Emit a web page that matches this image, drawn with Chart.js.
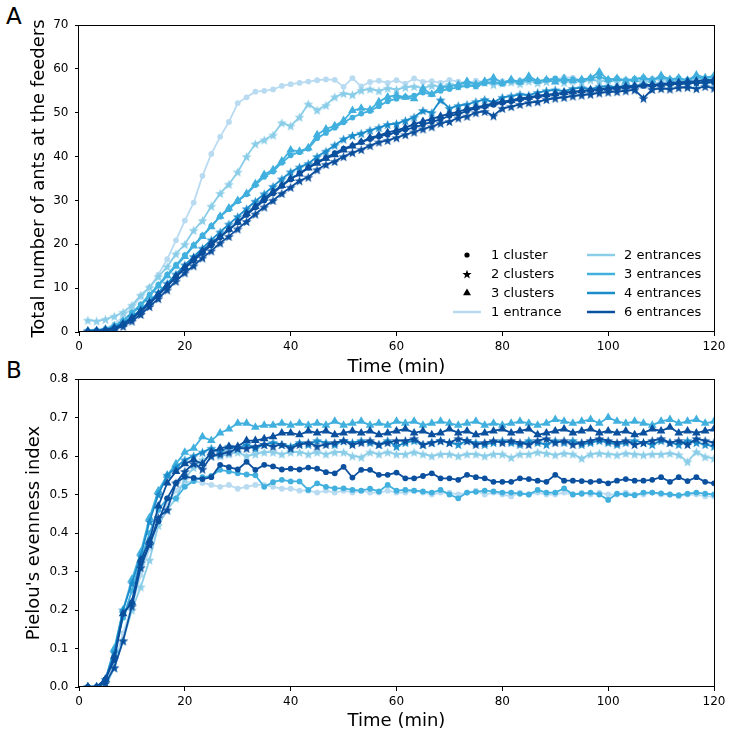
<!DOCTYPE html>
<html>
<head>
<meta charset="utf-8">
<script src="https://cdn.jsdelivr.net/npm/chart.js@4.4.1/dist/chart.umd.min.js"></script>
<style>
  body { margin: 0; background: #fff; width: 732px; height: 734px; position: relative; overflow: hidden; font-family: "DejaVu Sans", sans-serif; }
  canvas { position: absolute; left: 0; }
  #chartA { top: 0; }
  #chartB { top: 354px; }
  .panel-letter { position: absolute; font-size: 23px; line-height: 1; color: #000; }
</style>
</head>
<body>
<div class="panel-letter" style="left:6px; top:5px;">A</div>
<div class="panel-letter" style="left:6px; top:359px;">B</div>
<canvas id="chartA" width="732" height="380"></canvas>
<canvas id="chartB" width="732" height="380"></canvas>
<script>
// sample times (min), one every 100 s
const times = [1.67,3.33,5,6.67,8.33,10,11.67,13.33,15,16.67,18.33,20,
  21.67,23.33,25,26.67,28.33,30,31.67,33.33,35,36.67,38.33,40,
  41.67,43.33,45,46.67,48.33,50,51.67,53.33,55,56.67,58.33,60,
  61.67,63.33,65,66.67,68.33,70,71.67,73.33,75,76.67,78.33,80,
  81.67,83.33,85,86.67,88.33,90,91.67,93.33,95,96.67,98.33,100,
  101.67,103.33,105,106.67,108.33,110,111.67,113.33,115,116.67,118.33,120];

const xTicks = [0, 20, 40, 60, 80, 100, 120];
const yTicksA = [0, 10, 20, 30, 40, 50, 60, 70];
const yTicksB = [0, 0.1, 0.2, 0.3, 0.4, 0.5, 0.6, 0.7, 0.8];
const yLabelsB = ['0.0', '0.1', '0.2', '0.3', '0.4', '0.5', '0.6', '0.7', '0.8'];

const clusterLabels = ['1 cluster', '2 clusters', '3 clusters'];
const entranceLabels = ['1 entrance', '2 entrances', '3 entrances', '4 entrances', '6 entrances'];
const entranceCounts = [1, 2, 3, 4, 6];
const entranceColors = ['#b9dbf1', '#8acde8', '#41b0de', '#1b8ccb', '#0b509e'];

// --- Panel A: total number of ants at the feeders ---
const antsC1E1 = [0.3,0.4,0.8,1.8,3.5,5.5,8.0,10.2,13.1,16.6,20.9,25.4,
  29.5,35.6,40.6,44.5,47.9,52.2,53.5,54.8,55.0,55.3,56.1,56.5,
  56.8,57.1,57.4,57.6,57.5,55.9,57.9,56.0,57.0,57.3,56.8,57.4,
  56.6,57.8,57.0,57.2,56.8,57.5,57.1,56.7,57.3,57.0,57.5,57.2,
  56.9,57.4,57.8,57.1,57.5,57.6,58.1,58.0,57.4,57.7,57.2,57.5,
  57.3,57.6,57.1,57.4,57.8,57.2,57.5,57.0,57.6,57.3,57.5,57.2];
const antsC2E2 = [2.7,2.5,2.9,3.6,4.5,6.1,8.4,10.2,12.6,14.9,17.8,20.0,
  23.2,25.4,28.7,31.6,33.7,36.5,40.0,42.9,43.8,44.9,47.7,47.0,
  49.0,52.0,50.6,51.7,53.6,54.4,54.1,55.1,55.4,55.0,55.6,55.3,
  55.8,56.0,55.6,56.2,55.9,56.5,56.1,56.7,56.3,56.9,56.4,56.8,
  57.0,56.6,57.2,56.8,57.1,57.4,56.9,57.3,57.0,57.5,57.2,57.4,
  57.1,57.6,57.3,57.0,57.5,57.8,57.2,57.6,57.3,57.9,57.5,57.7];
const antsC1E3 = [0.2,0.3,0.6,1.4,2.6,4.4,6.3,8.5,10.8,13.1,15.3,17.5,
  19.8,22.0,24.2,26.3,28.0,29.8,31.4,33.5,35.4,36.6,38.6,40.3,
  41.0,41.8,44.2,45.4,46.6,47.8,48.9,49.8,50.4,51.5,52.6,53.2,
  53.6,53.9,54.6,54.2,55.0,55.4,55.8,56.2,56.0,56.7,57.0,56.6,
  57.3,57.0,57.6,57.2,57.5,57.8,57.2,57.6,57.4,57.9,58.2,57.5,
  57.8,57.3,57.7,58.0,57.5,58.1,57.6,57.9,57.4,58.2,57.8,58.3];
const antsC3E3 = [0.2,0.3,0.6,1.3,2.5,4.2,6.0,8.2,10.5,12.8,15.0,17.2,
  19.6,21.8,24.0,26.4,28.3,30.0,31.6,33.8,35.9,37.0,39.0,41.5,
  41.2,42.0,45.0,46.3,47.0,48.2,50.5,51.0,50.7,52.5,53.6,54.0,
  53.5,53.2,55.5,54.2,55.8,56.0,56.4,57.2,56.5,57.2,58.0,56.8,
  57.6,57.0,58.3,57.2,57.5,57.0,57.8,57.3,57.6,57.9,59.3,57.5,
  57.8,57.2,57.6,58.0,57.4,58.5,57.6,57.9,57.4,58.6,58.0,58.4];
const antsC2E4 = [0.3,0.4,0.6,1.1,2.1,3.5,5.1,7.0,9.0,11.1,13.2,15.3,
  17.2,19.1,21.0,22.8,24.6,26.3,28.1,29.8,31.5,33.2,34.9,36.5,
  37.6,38.4,40.0,41.2,42.6,44.0,44.8,45.3,46.0,46.6,47.3,47.5,
  48.2,49.0,50.5,50.0,52.9,51.0,51.6,51.9,52.5,53.0,52.4,53.5,
  53.8,54.2,54.0,54.6,55.0,55.2,54.9,55.5,55.7,55.4,55.9,56.0,
  55.8,56.2,56.0,56.5,56.2,56.6,56.4,56.8,56.5,56.9,56.7,57.0];
const antsC1E6 = [0.1,0.2,0.4,0.8,1.7,3.0,4.6,6.5,8.4,10.4,12.5,14.5,
  16.3,18.0,19.8,21.6,23.3,25.0,26.7,28.4,30.0,31.6,33.3,34.8,
  36.2,37.5,38.8,39.7,40.8,41.8,42.5,43.3,44.0,44.6,45.0,45.5,
  46.2,46.6,47.3,47.9,48.5,49.3,49.7,50.4,51.0,51.4,51.8,52.3,
  52.6,53.0,53.3,53.7,54.0,54.2,54.5,54.7,54.9,55.1,55.3,55.4,
  55.6,55.8,55.9,56.1,56.2,56.3,56.5,56.6,56.7,56.8,56.9,57.0];
const antsC2E6 = [0.1,0.2,0.3,0.6,1.3,2.5,4.0,5.8,7.6,9.6,11.6,13.5,
  15.1,16.9,18.5,20.3,21.8,23.5,25.2,26.9,28.5,30.0,31.6,33.0,
  34.5,35.3,37.0,38.2,38.9,40.0,40.9,41.6,42.5,43.3,43.7,44.3,
  45.0,45.6,46.3,46.8,47.6,48.0,48.8,49.2,50.0,50.3,49.3,51.0,
  51.4,51.9,52.3,52.5,53.0,53.3,53.5,53.8,54.0,54.2,54.5,54.7,
  54.8,55.0,55.2,53.3,55.3,55.5,55.4,55.7,55.8,55.5,56.0,55.6];
const antsC3E6 = [0.1,0.2,0.4,0.9,1.8,3.2,4.8,6.7,8.6,10.6,12.7,14.8,
  16.7,18.4,20.3,21.8,23.4,25.0,27.0,28.6,30.5,32.0,33.4,35.0,
  36.0,37.4,38.5,39.6,40.4,41.5,42.4,43.3,44.3,44.8,45.5,46.0,
  46.6,47.4,48.0,48.6,49.2,49.8,50.2,50.9,51.3,51.6,52.2,52.5,
  52.8,53.3,53.5,53.9,54.1,54.3,54.6,54.8,55.0,55.2,55.4,55.6,
  55.8,56.0,56.1,56.3,56.4,56.5,56.8,56.9,57.1,57.2,57.4,57.5];

// --- Panel B: Pielou's evenness index ---
const evenC1E1 = [0,0,0.01,0.06,0.14,0.21,0.29,0.36,0.43,0.48,0.51,0.53,
  0.535,0.53,0.525,0.52,0.525,0.515,0.52,0.525,0.525,0.52,0.515,0.515,
  0.51,0.51,0.505,0.51,0.505,0.51,0.505,0.51,0.505,0.505,0.51,0.505,
  0.505,0.51,0.505,0.50,0.505,0.505,0.50,0.505,0.51,0.50,0.505,0.50,
  0.495,0.505,0.50,0.505,0.50,0.50,0.505,0.50,0.505,0.50,0.505,0.50,
  0.50,0.505,0.50,0.50,0.505,0.50,0.50,0.495,0.50,0.50,0.495,0.495];
const evenC2E2 = [0,0,0,0.05,0.12,0.20,0.26,0.33,0.42,0.46,0.49,0.54,
  0.57,0.59,0.60,0.60,0.605,0.61,0.60,0.605,0.61,0.61,0.605,0.61,
  0.61,0.605,0.61,0.605,0.61,0.61,0.60,0.597,0.61,0.605,0.61,0.605,
  0.605,0.61,0.605,0.60,0.605,0.605,0.60,0.605,0.605,0.60,0.605,0.605,
  0.596,0.605,0.605,0.61,0.607,0.603,0.607,0.605,0.594,0.605,0.607,0.605,
  0.603,0.607,0.605,0.603,0.605,0.605,0.607,0.603,0.585,0.611,0.598,0.594];
const evenC1E3 = [0,0,0.02,0.09,0.18,0.25,0.33,0.40,0.46,0.49,0.49,0.52,
  0.535,0.545,0.548,0.564,0.56,0.555,0.552,0.55,0.52,0.532,0.538,0.534,
  0.534,0.512,0.529,0.52,0.516,0.516,0.512,0.51,0.515,0.508,0.525,0.51,
  0.512,0.51,0.508,0.505,0.512,0.50,0.49,0.505,0.507,0.51,0.508,0.505,
  0.505,0.502,0.50,0.512,0.505,0.505,0.516,0.50,0.502,0.505,0.50,0.486,
  0.502,0.50,0.498,0.505,0.505,0.503,0.50,0.498,0.502,0.505,0.502,0.50];
const evenC3E3 = [0,0,0.02,0.10,0.20,0.28,0.35,0.44,0.51,0.55,0.58,0.61,
  0.62,0.65,0.64,0.66,0.67,0.685,0.685,0.675,0.68,0.68,0.685,0.68,
  0.685,0.68,0.685,0.68,0.69,0.68,0.685,0.69,0.68,0.685,0.68,0.69,
  0.685,0.69,0.68,0.685,0.69,0.685,0.68,0.685,0.69,0.68,0.685,0.68,
  0.685,0.69,0.685,0.68,0.685,0.695,0.69,0.685,0.69,0.695,0.685,0.70,
  0.69,0.685,0.69,0.685,0.68,0.69,0.695,0.685,0.69,0.695,0.685,0.69];
const evenC2E4 = [0,0,0.02,0.09,0.20,0.27,0.34,0.43,0.50,0.55,0.57,0.59,
  0.60,0.61,0.62,0.61,0.625,0.62,0.63,0.62,0.63,0.635,0.63,0.625,
  0.635,0.63,0.64,0.635,0.63,0.64,0.635,0.64,0.635,0.63,0.64,0.625,
  0.635,0.64,0.63,0.635,0.64,0.635,0.63,0.64,0.635,0.63,0.635,0.64,
  0.635,0.63,0.64,0.635,0.63,0.64,0.635,0.64,0.63,0.635,0.64,0.635,
  0.63,0.635,0.64,0.635,0.63,0.64,0.635,0.63,0.64,0.635,0.63,0.625];
const evenC1E6 = [0,0,0.02,0.07,0.19,0.22,0.32,0.37,0.43,0.49,0.53,0.546,
  0.543,0.54,0.545,0.577,0.571,0.565,0.585,0.564,0.577,0.573,0.565,0.567,
  0.565,0.57,0.567,0.558,0.555,0.572,0.544,0.564,0.564,0.551,0.551,0.557,
  0.542,0.542,0.548,0.555,0.542,0.542,0.538,0.551,0.545,0.542,0.533,0.533,
  0.533,0.542,0.54,0.536,0.533,0.551,0.536,0.536,0.535,0.533,0.535,0.529,
  0.536,0.54,0.536,0.536,0.538,0.545,0.533,0.545,0.535,0.545,0.533,0.529];
const evenC2E6 = [0,0,0.01,0.05,0.12,0.21,0.31,0.37,0.44,0.46,0.53,0.56,
  0.58,0.566,0.60,0.605,0.61,0.62,0.62,0.625,0.63,0.625,0.63,0.62,
  0.63,0.635,0.625,0.63,0.635,0.64,0.63,0.635,0.64,0.63,0.635,0.64,
  0.64,0.645,0.63,0.635,0.64,0.635,0.645,0.64,0.63,0.635,0.64,0.635,
  0.64,0.635,0.63,0.64,0.645,0.635,0.64,0.63,0.635,0.64,0.645,0.64,
  0.635,0.64,0.63,0.635,0.64,0.645,0.635,0.64,0.63,0.645,0.64,0.635];
const evenC3E6 = [0,0,0.02,0.08,0.19,0.22,0.33,0.38,0.47,0.53,0.56,0.58,
  0.59,0.58,0.61,0.62,0.625,0.625,0.64,0.64,0.645,0.65,0.66,0.66,
  0.655,0.665,0.66,0.665,0.655,0.66,0.665,0.66,0.665,0.655,0.66,0.665,
  0.67,0.66,0.665,0.655,0.66,0.67,0.66,0.665,0.655,0.66,0.665,0.67,
  0.66,0.665,0.67,0.655,0.66,0.665,0.67,0.66,0.665,0.67,0.66,0.665,
  0.66,0.665,0.655,0.66,0.67,0.665,0.675,0.66,0.665,0.66,0.665,0.67];

// drawing order: later entries end up on top
const seriesA = [
  { clusters: 1, entrances: 1, values: antsC1E1 },
  { clusters: 2, entrances: 2, values: antsC2E2 },
  { clusters: 1, entrances: 3, values: antsC1E3 },
  { clusters: 3, entrances: 3, values: antsC3E3 },
  { clusters: 2, entrances: 4, values: antsC2E4 },
  { clusters: 1, entrances: 6, values: antsC1E6 },
  { clusters: 2, entrances: 6, values: antsC2E6 },
  { clusters: 3, entrances: 6, values: antsC3E6 },
];
const seriesB = [
  { clusters: 1, entrances: 1, values: evenC1E1 },
  { clusters: 2, entrances: 2, values: evenC2E2 },
  { clusters: 1, entrances: 3, values: evenC1E3 },
  { clusters: 3, entrances: 3, values: evenC3E3 },
  { clusters: 2, entrances: 4, values: evenC2E4 },
  { clusters: 1, entrances: 6, values: evenC1E6 },
  { clusters: 2, entrances: 6, values: evenC2E6 },
  { clusters: 3, entrances: 6, values: evenC3E6 },
];

const FONT = '"DejaVu Sans", sans-serif';
const colorFor = (e) => entranceColors[entranceCounts.indexOf(e)];

// filled five-pointed star (chart.js 'star' is only an asterisk)
const makeStar = (color, r) => {
  const c = document.createElement('canvas');
  const s = Math.ceil(r * 2 + 2);
  c.width = s; c.height = s;
  const g = c.getContext('2d');
  g.fillStyle = color;
  g.beginPath();
  for (let i = 0; i < 10; i++) {
    const rad = i % 2 ? r * 0.42 : r;
    const a = -Math.PI / 2 + i * Math.PI / 5;
    g.lineTo(s / 2 + rad * Math.cos(a), s / 2 + rad * Math.sin(a) + 0.6);
  }
  g.closePath();
  g.fill();
  return c;
};
const starImgs = {};
entranceCounts.forEach(e => { starImgs[e] = makeStar(colorFor(e), 5.2); });

const makeDatasets = (list) => list.map((s, i) => {
  const col = colorFor(s.entrances);
  return {
    label: `${clusterLabels[s.clusters - 1]}, ${entranceLabels[entranceCounts.indexOf(s.entrances)]}`,
    data: times.map((t, j) => ({ x: t, y: s.values[j] })),
    borderColor: col,
    backgroundColor: col,
    borderWidth: 1.8,
    pointStyle: s.clusters === 1 ? 'circle' : s.clusters === 2 ? starImgs[s.entrances] : 'triangle',
    pointRadius: s.clusters === 1 ? 2.9 : 5,
    pointBorderWidth: 0,
    pointHoverRadius: 0,
    tension: 0,
    order: list.length - i,
  };
});

// full box around the plot, like matplotlib spines
const framePlugin = {
  id: 'frame',
  afterDraw(chart) {
    const { ctx, chartArea: a } = chart;
    ctx.save();
    ctx.strokeStyle = '#000';
    ctx.lineWidth = 1;
    ctx.strokeRect(Math.round(a.left) - 0.5, Math.round(a.top) + 0.5, Math.round(a.right - a.left) + 1, Math.round(a.bottom - a.top) - 1);
    ctx.restore();
  }
};

// two-column legend in the lower right of panel A
const legendPlugin = {
  id: 'customLegend',
  afterDraw(chart) {
    const ctx = chart.ctx;
    const rowY = [255, 274, 293, 312];
    ctx.save();
    ctx.font = `13px ${FONT}`;
    ctx.fillStyle = '#000';
    ctx.textBaseline = 'middle';
    ctx.textAlign = 'left';
    // marker entries
    const blackStar = makeStar('#000', 4.8);
    const styles = ['circle', blackStar, 'triangle'];
    const radii = [2.6, 4.6, 4.6];
    clusterLabels.forEach((lbl, i) => {
      ctx.fillStyle = '#000';
      Chart.helpers.drawPoint(ctx, { pointStyle: styles[i], radius: radii[i], borderWidth: 0, rotation: 0 }, 467, rowY[i]);
      ctx.fillText(lbl, 491, rowY[i] + 1);
    });
    // line entries
    const lineCells = [[453, 481, 491, 312]];
    for (let i = 1; i < 5; i++) lineCells.push([587, 615, 624, rowY[i - 1]]);
    entranceLabels.forEach((lbl, i) => {
      const [x0, x1, tx, y] = lineCells[i];
      ctx.strokeStyle = entranceColors[i];
      ctx.lineWidth = 2.5;
      ctx.beginPath();
      ctx.moveTo(x0, y);
      ctx.lineTo(x1, y);
      ctx.stroke();
      ctx.fillStyle = '#000';
      ctx.fillText(lbl, tx, y + 1);
    });
    ctx.restore();
  }
};

const makeOptions = (yMax, yTicks, yLabel, yTitle, yTitlePad, xHeight) => ({
  responsive: false,
  animation: false,
  events: [],
  layout: { padding: { top: 25, right: 18, left: 0, bottom: 0 } },
  plugins: { legend: { display: false }, tooltip: { enabled: false } },
  scales: {
    x: {
      type: 'linear', min: 0, max: 120,
      afterBuildTicks: s => { s.ticks = xTicks.map(v => ({ value: v })); },
      afterFit: s => { s.height = xHeight; },
      ticks: { color: '#000', font: { size: 12, family: FONT }, padding: 3.5, maxRotation: 0, autoSkip: false },
      grid: { display: true, drawOnChartArea: false, drawTicks: true, tickLength: 4, color: '#000', tickColor: '#000' },
      border: { display: false },
      title: { display: true, text: 'Time (min)', color: '#000', font: { size: 18, family: FONT, lineHeight: 1.2 }, padding: { top: 0, bottom: 2 } }
    },
    y: {
      type: 'linear', min: 0, max: yMax,
      afterBuildTicks: s => { s.ticks = yTicks.map(v => ({ value: v })); },
      afterFit: s => { s.width = 79; },
      ticks: { color: '#000', font: { size: 12, family: FONT }, padding: 6.5, autoSkip: false, callback: yLabel },
      grid: { display: true, drawOnChartArea: false, drawTicks: true, tickLength: 4, color: '#000', tickColor: '#000' },
      border: { display: false },
      title: { display: true, text: yTitle, color: '#000', font: { size: 18, family: FONT, lineHeight: 1.2 }, padding: { top: yTitlePad, bottom: 0 } }
    }
  }
});

new Chart(document.getElementById('chartA'), {
  type: 'line',
  data: { datasets: makeDatasets(seriesA) },
  options: makeOptions(70, yTicksA, v => String(v), 'Total number of ants at the feeders', 29, 48),
  plugins: [framePlugin, legendPlugin]
});

new Chart(document.getElementById('chartB'), {
  type: 'line',
  data: { datasets: makeDatasets(seriesB) },
  options: makeOptions(0.8, yTicksB, v => yLabelsB[yTicksB.findIndex(t => Math.abs(t - v) < 1e-6)], "Pielou's evenness index", 24, 47),
  plugins: [framePlugin]
});
</script>
</body>
</html>
